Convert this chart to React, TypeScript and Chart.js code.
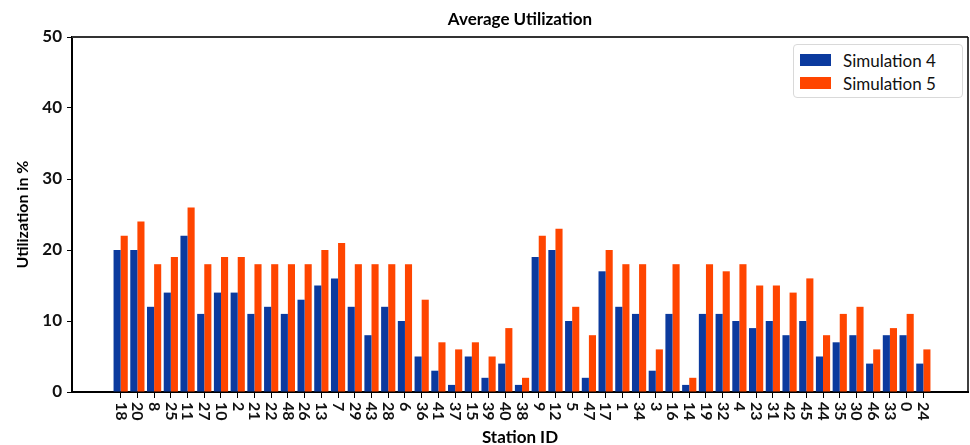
import React, { useEffect, useRef } from 'react';
import { Chart, registerables } from 'chart.js';

Chart.register(...registerables);

const stations = ['18','20','8','25','11','27','10','2','21','22','48','26','13','7','29','43','28','6','36','41','37','15','39','40','38','9','12','5','47','17','1','34','3','16','14','19','32','4','23','31','42','45','44','35','30','46','33','0','24'];
const sim4 = [20,20,12,14,22,11,14,14,11,12,11,13,15,16,12,8,12,10,5,3,1,5,2,4,1,19,20,10,2,17,12,11,3,11,1,11,11,10,9,10,8,10,5,7,8,4,8,8,4];
const sim5 = [22,24,18,19,26,18,19,19,18,18,18,18,20,21,18,18,18,18,13,7,6,7,5,9,2,22,23,12,8,20,18,18,6,18,2,18,17,18,15,15,14,16,8,11,12,6,9,11,6];
const seriesNames = ['Simulation 4', 'Simulation 5'];
const yTickValues = [0, 10, 20, 30, 40, 50];

const BLUE = '#0b3a9e';
const ORANGE = '#ff4500';

export default function App() {
  const ref = useRef<HTMLCanvasElement>(null);

  useEffect(() => {
    document.body.style.margin = '0';
    const canvas = ref.current!;

    const framePlugin = {
      id: 'frame',
      afterDraw(chart: any) {
        const { ctx, chartArea } = chart;
        const { left, right, top, bottom } = chartArea;
        ctx.save();
        ctx.strokeStyle = '#333';
        ctx.lineWidth = 2;
        ctx.beginPath();
        ctx.moveTo(left, top);
        ctx.lineTo(right, top);
        ctx.stroke();
        ctx.strokeStyle = '#000';
        ctx.lineWidth = 1.5;
        ctx.beginPath();
        ctx.moveTo(right, top);
        ctx.lineTo(right, bottom);
        ctx.stroke();
        // x tick labels rotated clockwise
        const xs = chart.scales.x;
        ctx.fillStyle = '#111';
        ctx.font = 'bold 16px Lato';
        ctx.textAlign = 'left';
        ctx.textBaseline = 'middle';
        stations.forEach((lab, i) => {
          const px = xs.getPixelForValue(i);
          ctx.save();
          ctx.translate(px, xs.top + 10);
          ctx.rotate(Math.PI / 2);
          ctx.fillText(lab, 0, 0);
          ctx.restore();
        });
        ctx.restore();
      },
    };

    const chart = new Chart(canvas, {
      type: 'bar',
      data: {
        datasets: [
          {
            label: seriesNames[0],
            data: sim4.map((v, i) => ({ x: i, y: v })),
            backgroundColor: BLUE,
            categoryPercentage: 0.85,
            barPercentage: 1.0,
          },
          {
            label: seriesNames[1],
            data: sim5.map((v, i) => ({ x: i, y: v })),
            backgroundColor: ORANGE,
            categoryPercentage: 0.85,
            barPercentage: 1.0,
          },
        ],
      },
      options: {
        animation: false,
        responsive: false,
        layout: { padding: { left: 0, right: 2, top: 0, bottom: 0 } },
        plugins: {
          legend: { display: false },
          tooltip: { enabled: false },
          title: {
            display: true,
            fullSize: false,
            text: 'Average Utilization',
            color: '#000',
            font: { family: 'Lato', size: 17, weight: 'bold' },
            padding: { top: 9, bottom: 7.6 },
          },
        },
        scales: {
          x: {
            type: 'linear',
            min: -2.91,
            max: 50.67,
            offset: false,
            grid: {
              offset: false,
              drawOnChartArea: false,
              drawTicks: true,
              tickLength: 6,
              color: '#000',
              lineWidth: 1,
            },
            border: { display: true, color: '#000', width: 2 },
            ticks: { display: false },
            afterBuildTicks: (scale: any) => {
              scale.ticks = stations.map((_, i) => ({ value: i }));
            },
            afterFit: (scale: any) => {
              scale.height = 53;
            },
            title: {
              display: true,
              text: 'Station ID',
              color: '#000',
              font: { family: 'Lato', size: 17, weight: 'bold' },
              padding: { top: 0, bottom: -3 },
            },
          },
          y: {
            min: 0,
            max: 50,
            afterBuildTicks: (scale: any) => {
              scale.ticks = yTickValues.map((v) => ({ value: v }));
            },
            grid: {
              drawOnChartArea: false,
              drawTicks: true,
              tickLength: 5,
              color: '#000',
            },
            border: { display: true, color: '#000', width: 2 },
            ticks: {
              color: '#111',
              padding: 5,
              font: { family: 'Lato', size: 17, weight: 'bold' },
            },
            afterFit: (scale: any) => {
              scale.width = 72;
            },
            title: {
              display: true,
              text: 'Utilization in %',
              color: '#000',
              font: { family: 'Lato', size: 16, weight: 'bold' },
              padding: { top: 13, bottom: 0 },
            },
          },
        },
      },
      plugins: [framePlugin],
    });

    return () => chart.destroy();
  }, []);

  const legendItems = [
    { name: seriesNames[0], color: BLUE },
    { name: seriesNames[1], color: ORANGE },
  ];

  return (
    <div style={{ position: 'relative', width: 970, height: 445, background: '#fff' }}>
      <canvas ref={ref} width={970} height={445} style={{ display: 'block' }} />
      <div
        style={{
          position: 'absolute',
          left: 793,
          top: 44,
          width: 170,
          height: 54,
          boxSizing: 'border-box',
          border: '1px solid #d9d9d9',
          borderRadius: 4,
          background: '#fff',
          fontFamily: 'Lato',
          fontSize: 17,
          color: '#111',
        }}
      >
        {legendItems.map((it, k) => (
          <div
            key={it.name}
            style={{
              position: 'absolute',
              left: 6,
              top: 6 + k * 23,
              height: 18,
              display: 'flex',
              alignItems: 'center',
              whiteSpace: 'nowrap',
            }}
          >
            <span style={{ display: 'inline-block', width: 31, height: 12, background: it.color, marginRight: 12 }} />
            <span>{it.name}</span>
          </div>
        ))}
      </div>
    </div>
  );
}
